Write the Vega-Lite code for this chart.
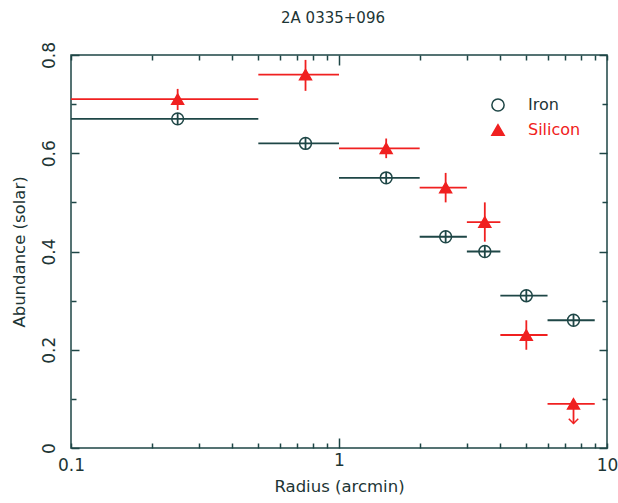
{
  "$schema": "https://vega.github.io/schema/vega-lite/v6.json",
  "width": 536,
  "height": 393,
  "autosize": "none",
  "padding": {"left": 71, "top": 55, "right": 11, "bottom": 55},
  "title": {"text": "2A 0335+096", "font": "DejaVu Sans", "fontSize": 15, "fontWeight": "normal", "color": "#1d3535", "offset": 15, "dx": -6},
  "config": {"view": {"stroke": "#1e4646", "strokeWidth": 1.5}, "font": "DejaVu Sans"},
  "data": {"values": [
    {"element": "Iron", "x": 0.25, "xlo": 0.1, "xhi": 0.5, "y": 0.67, "ylo": 0.658, "yhi": 0.682, "limit": false},
    {"element": "Iron", "x": 0.75, "xlo": 0.5, "xhi": 1, "y": 0.62, "ylo": 0.608, "yhi": 0.632, "limit": false},
    {"element": "Iron", "x": 1.5, "xlo": 1, "xhi": 2, "y": 0.55, "ylo": 0.538, "yhi": 0.562, "limit": false},
    {"element": "Iron", "x": 2.5, "xlo": 2, "xhi": 3, "y": 0.43, "ylo": 0.418, "yhi": 0.442, "limit": false},
    {"element": "Iron", "x": 3.5, "xlo": 3, "xhi": 4, "y": 0.40, "ylo": 0.388, "yhi": 0.412, "limit": false},
    {"element": "Iron", "x": 5, "xlo": 4, "xhi": 6, "y": 0.31, "ylo": 0.298, "yhi": 0.322, "limit": false},
    {"element": "Iron", "x": 7.5, "xlo": 6, "xhi": 9, "y": 0.26, "ylo": 0.248, "yhi": 0.272, "limit": false},
    {"element": "Silicon", "x": 0.25, "xlo": 0.1, "xhi": 0.5, "y": 0.71, "ylo": 0.688, "yhi": 0.731, "limit": false},
    {"element": "Silicon", "x": 0.75, "xlo": 0.5, "xhi": 1, "y": 0.76, "ylo": 0.727, "yhi": 0.79, "limit": false},
    {"element": "Silicon", "x": 1.5, "xlo": 1, "xhi": 2, "y": 0.61, "ylo": 0.59, "yhi": 0.63, "limit": false},
    {"element": "Silicon", "x": 2.5, "xlo": 2, "xhi": 3, "y": 0.53, "ylo": 0.50, "yhi": 0.56, "limit": false},
    {"element": "Silicon", "x": 3.5, "xlo": 3, "xhi": 4, "y": 0.46, "ylo": 0.42, "yhi": 0.50, "limit": false},
    {"element": "Silicon", "x": 5, "xlo": 4, "xhi": 6, "y": 0.23, "ylo": 0.20, "yhi": 0.26, "limit": false},
    {"element": "Silicon", "x": 7.5, "xlo": 6, "xhi": 9, "y": 0.09, "ylo": 0.05, "yhi": 0.09, "limit": true}
  ]},
  "resolve": {"axis": {"x": "independent", "y": "independent"}},
  "layer": [
    {
      "mark": {"type": "rule", "strokeWidth": 1.8},
      "encoding": {
        "x": {"field": "xlo", "type": "quantitative",
          "scale": {"type": "log", "domain": [0.1, 10], "nice": false},
          "axis": {"orient": "bottom", "values": [0.1,0.2,0.3,0.4,0.5,0.6,0.7,0.8,0.9,1,2,3,4,5,6,7,8,9,10],
            "labelExpr": "datum.value == 0.1 ? '0.1' : datum.value == 1 ? '1' : datum.value == 10 ? '10' : ''",
            "tickSize": {"condition": {"test": "datum.value == 1", "value": -10}, "value": -5},
            "tickColor": "#1e4646", "tickWidth": 1.5, "domain": false, "grid": false,
            "labelFontSize": 17, "labelColor": "#1d3535", "labelPadding": 14, "labelFlush": false, "labelOverlap": false, "labelBound": false,
            "title": "Radius (arcmin)", "titleFontSize": 16.5, "titleFontWeight": "normal", "titleColor": "#1d3535", "titlePadding": 5}},
        "x2": {"field": "xhi"},
        "y": {"field": "y", "type": "quantitative",
          "scale": {"domain": [0, 0.8], "nice": false, "zero": false},
          "axis": {"orient": "left", "values": [0,0.1,0.2,0.3,0.4,0.5,0.6,0.7,0.8],
            "labelExpr": "round(datum.value*10) % 2 == 0 ? (datum.value == 0 ? '0' : format(datum.value, '.1f')) : ''",
            "tickSize": {"condition": {"test": "round(datum.value*10) % 2 == 0", "value": -8}, "value": -5},
            "tickColor": "#1e4646", "tickWidth": 1.5, "domain": false, "grid": false,
            "labelAngle": -90, "labelAlign": "center", "labelBaseline": "bottom",
            "labelFontSize": 17, "labelColor": "#1d3535", "labelPadding": 21, "labelOverlap": false, "labelBound": false,
            "title": "Abundance (solar)", "titleFontSize": 16.5, "titleFontWeight": "normal", "titleColor": "#1d3535", "titlePadding": 10}},
        "stroke": {"field": "element", "type": "nominal", "scale": {"domain": ["Iron", "Silicon"], "range": ["#1e4646", "#f02020"]},
          "legend": {"title": null, "orient": "none", "legendX": 419, "legendY": 42, "padding": 0, "rowPadding": 6,
            "labelFontSize": 16, "labelOffset": 22, "symbolSize": 150, "symbolStrokeWidth": 1.5,
            "labelColor": {"expr": "datum.value === 'Silicon' ? '#f02020' : '#1d3535'"}}}
      }
    },
    {
      "mark": {"type": "rule", "strokeWidth": 1.8},
      "encoding": {
        "x": {"field": "x", "type": "quantitative",
          "axis": {"orient": "top", "values": [0.1,0.2,0.3,0.4,0.5,0.6,0.7,0.8,0.9,1,2,3,4,5,6,7,8,9,10],
            "labels": false, "title": null, "domain": false, "grid": false,
            "tickSize": {"condition": {"test": "datum.value == 1", "value": -10}, "value": -5},
            "tickColor": "#1e4646", "tickWidth": 1.5}},
        "y": {"field": "ylo", "type": "quantitative",
          "axis": {"orient": "right", "values": [0,0.1,0.2,0.3,0.4,0.5,0.6,0.7,0.8],
            "labels": false, "title": null, "domain": false, "grid": false,
            "tickSize": {"condition": {"test": "round(datum.value*10) % 2 == 0", "value": -8}, "value": -5},
            "tickColor": "#1e4646", "tickWidth": 1.5}},
        "y2": {"field": "yhi"},
        "stroke": {"field": "element", "type": "nominal",
          "legend": {"title": null, "orient": "none", "legendX": 419, "legendY": 42, "padding": 0, "rowPadding": 6,
            "labelFontSize": 16, "labelOffset": 22, "symbolSize": 150, "symbolStrokeWidth": 1.5,
            "labelColor": {"expr": "datum.value === 'Silicon' ? '#f02020' : '#1d3535'"}}}
      }
    },
    {
      "transform": [{"filter": "datum.limit"}],
      "mark": {"type": "point", "shape": "M-1,-1L0,0L1,-1", "filled": false, "size": 90, "strokeWidth": 1.5, "stroke": "#f02020", "opacity": 1},
      "encoding": {
        "x": {"field": "x", "type": "quantitative", "axis": null},
        "y": {"field": "ylo", "type": "quantitative", "axis": null}
      }
    },
    {
      "mark": {"type": "point", "filled": true, "strokeWidth": 1.5, "opacity": 1, "size": 140},
      "encoding": {
        "x": {"field": "x", "type": "quantitative", "axis": null},
        "y": {"field": "y", "type": "quantitative", "axis": null},
        "shape": {"field": "element", "type": "nominal", "scale": {"domain": ["Iron", "Silicon"], "range": ["circle", "triangle-up"]},
          "legend": {"title": null, "orient": "none", "legendX": 419, "legendY": 42, "padding": 0, "rowPadding": 6,
            "labelFontSize": 16, "labelOffset": 22, "symbolSize": 150, "symbolStrokeWidth": 1.5,
            "labelColor": {"expr": "datum.value === 'Silicon' ? '#f02020' : '#1d3535'"}}},
        "stroke": {"field": "element", "type": "nominal",
          "legend": {"title": null, "orient": "none", "legendX": 419, "legendY": 42, "padding": 0, "rowPadding": 6,
            "labelFontSize": 16, "labelOffset": 22, "symbolSize": 150, "symbolStrokeWidth": 1.5,
            "labelColor": {"expr": "datum.value === 'Silicon' ? '#f02020' : '#1d3535'"}}},
        "fill": {"field": "element", "type": "nominal", "scale": {"domain": ["Iron", "Silicon"], "range": ["transparent", "#f02020"]},
          "legend": {"title": null, "orient": "none", "legendX": 419, "legendY": 42, "padding": 0, "rowPadding": 6,
            "labelFontSize": 16, "labelOffset": 22, "symbolSize": 150, "symbolStrokeWidth": 1.5,
            "labelColor": {"expr": "datum.value === 'Silicon' ? '#f02020' : '#1d3535'"}}}
      }
    }
  ]
}
